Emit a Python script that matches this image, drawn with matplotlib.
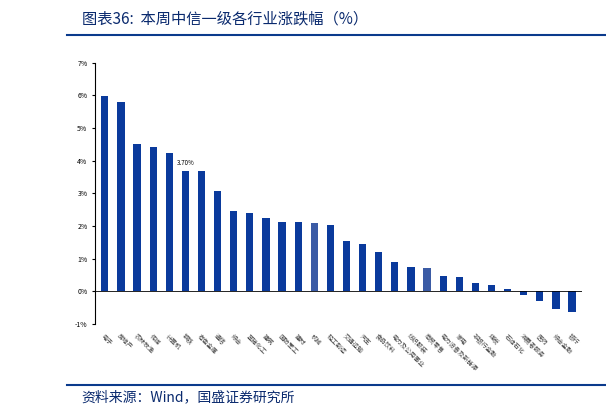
import matplotlib
matplotlib.use("Agg")
import matplotlib.pyplot as plt
from matplotlib.ticker import FuncFormatter
plt.rcParams['font.family'] = ['Noto Sans CJK SC', 'DejaVu Sans']

industries = ["电子","房地产","农林牧渔","传媒","计算机","钢铁","有色金属","通信","综合","基础化工",
              "建筑","国防军工","建材","机械","轻工制造","交通运输","汽车","食品饮料","电力及公用事业","纺织服装",
              "商贸零售","电力设备及新能源","家电","非银行金融","煤炭","石油石化","消费者服务","医药","综合金融","银行"]
values = [5.98,5.80,4.50,4.42,4.25,3.70,3.70,3.08,2.45,2.40,
          2.25,2.13,2.13,2.08,2.03,1.53,1.45,1.20,0.90,0.75,
          0.72,0.47,0.45,0.25,0.20,0.08,-0.12,-0.28,-0.55,-0.62]
highlight = ["机械","商贸零售"]

fig = plt.figure(figsize=(6.06,4.16), dpi=100)
ax = fig.add_axes([0.157, 0.221, 0.803, 0.628])
colors = ["#3b5ba5" if n in highlight else "#0a3a9c" for n in industries]
ax.bar(range(len(values)), values, width=0.45, color=colors)
ax.set_ylim(-1, 7)
ax.set_xlim(-0.6, len(values)-0.4)
ax.set_yticks(range(-1, 8))
ax.yaxis.set_major_formatter(FuncFormatter(lambda v, p: f"{int(v)}%"))
ax.tick_params(axis='y', labelsize=5, length=2)
ax.set_xticks(range(len(values)))
ax.set_xticklabels(industries, rotation=-45, ha='left', fontsize=4.5, rotation_mode='anchor', color='#444444')
ax.tick_params(axis='x', length=0, pad=6)
for s in ['top','right','bottom']:
    ax.spines[s].set_visible(False)
ax.axhline(0, color='black', lw=0.6)
ax.annotate("3.70%", (5, values[5]), xytext=(0, 4), textcoords='offset points', ha='center', fontsize=4.5)

fig.text(0.135, 0.955, "图表36:  本周中信一级各行业涨跌幅（%）", fontsize=11, style='italic', color='#0a2a6e', va='center')
fig.add_artist(plt.Line2D([0.11, 1.0], [0.915, 0.915], color='#0a3a8c', lw=1.5))
fig.add_artist(plt.Line2D([0.11, 1.0], [0.075, 0.075], color='#0a3a8c', lw=1.5))
fig.text(0.135, 0.045, "资料来源：Wind，国盛证券研究所", fontsize=10, style='italic', color='#0a2a6e', va='center')
fig.savefig("out.png", dpi=100)
